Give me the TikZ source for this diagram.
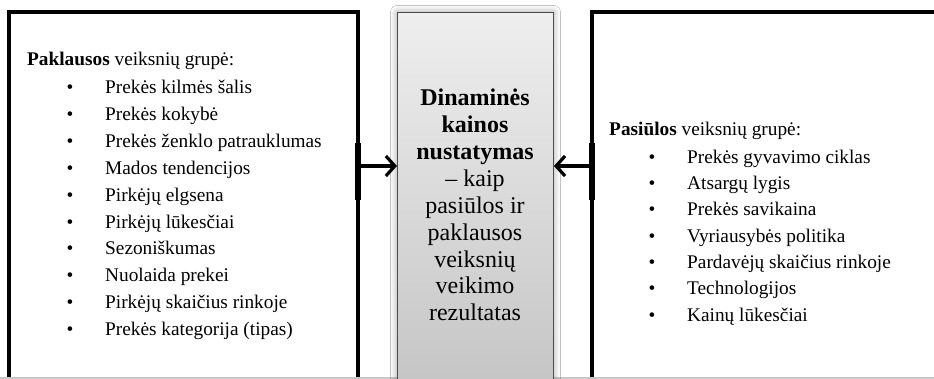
\documentclass[tikz,border=0pt]{standalone}
\usepackage{fontspec}
\setmainfont{Liberation Serif}
\usetikzlibrary{arrows.meta,shadows.blur}

\tikzset{
  groupframe/.style={draw=black, line width=4pt},
  centralbox/.style={draw=black!70, line width=0.9pt, top color=gray!13, bottom color=gray!46,
    blur shadow={shadow xshift=0pt, shadow yshift=0pt, shadow blur radius=7pt, shadow opacity=40}},
  listtext/.style={inner sep=0pt, anchor=base west, font=\fontsize{19.3}{23}\selectfont},
  bulletmark/.style={inner sep=0pt, anchor=base, font=\fontsize{19.3}{23}\selectfont},
  centraltext/.style={inner sep=0pt, align=center, font=\fontsize{24}{26.9}\selectfont},
  influence/.style={line width=3.2pt, -{Straight Barb[length=9pt,width=20pt,line width=3.2pt]}},
  cutline/.style={draw=black!22, line width=1.6pt}
}

\begin{document}
\begin{tikzpicture}[x=1pt, y=-1pt]
  \useasboundingbox (0,0) rectangle (934,379);
  \fill[white] (0,0) rectangle (934,379);
  \begin{scope}
    \clip (0,0) rectangle (934,379);

    % demand and supply frames, cut off at the lower edge
    \draw[groupframe] (9,400) -- (9,12) -- (358,12) -- (358,400);
    \draw[groupframe] (592,400) -- (592,12) -- (960,12);
    \draw[line width=5.5pt] (358,143) -- (358,200);
    \draw[line width=5.5pt] (592,143) -- (592,200);

    % lower edge of the page
    \draw[cutline] (0,378) -- (934,378);

    % central result box
    \node[centralbox, minimum width=156pt, minimum height=380pt, anchor=north west, inner sep=0pt] (core) at (397,12) {};
    \node[centraltext] (coretext) at (475,205)
      {\textbf{Dinaminės}\\ \textbf{kainos}\\ \textbf{nustatymas}\\ – kaip\\ pasiūlos ir\\ paklausos\\ veiksnių\\ veikimo\\ rezultatas};

    % demand factors
    \node[listtext] (demhead) at (27,66) {\textbf{Paklausos} veiksnių grupė:};
    \foreach \t [count=\i] in {Prekės kilmės šalis, Prekės kokybė, Prekės ženklo patrauklumas,
        Mados tendencijos, Pirkėjų elgsena, Pirkėjų lūkesčiai, Sezoniškumas, Nuolaida prekei,
        Pirkėjų skaičius rinkoje, Prekės kategorija (tipas)} {
      \node[bulletmark] (dembul\i) at (70,{67+26.85*\i}) {\textbullet};
      \node[listtext] (dem\i) at (105,{67+26.85*\i}) {\t};
    }

    % supply factors
    \node[listtext] (suphead) at (609,136) {\textbf{Pasiūlos} veiksnių grupė:};
    \foreach \t [count=\i] in {Prekės gyvavimo ciklas, Atsargų lygis, Prekės savikaina,
        Vyriausybės politika, Pardavėjų skaičius rinkoje, Technologijos, Kainų lūkesčiai} {
      \node[bulletmark] (supbul\i) at (652,{137+26.3*\i}) {\textbullet};
      \node[listtext] (sup\i) at (687,{137+26.3*\i}) {\t};
    }

    % both groups act on the price
    \coordinate (demout) at (360,166);
    \coordinate (supout) at (590,166);
    \draw[influence] (demout) -- (core.west |- demout);
    \draw[influence] (supout) -- (core.east |- supout);
  \end{scope}
\end{tikzpicture}
\end{document}
